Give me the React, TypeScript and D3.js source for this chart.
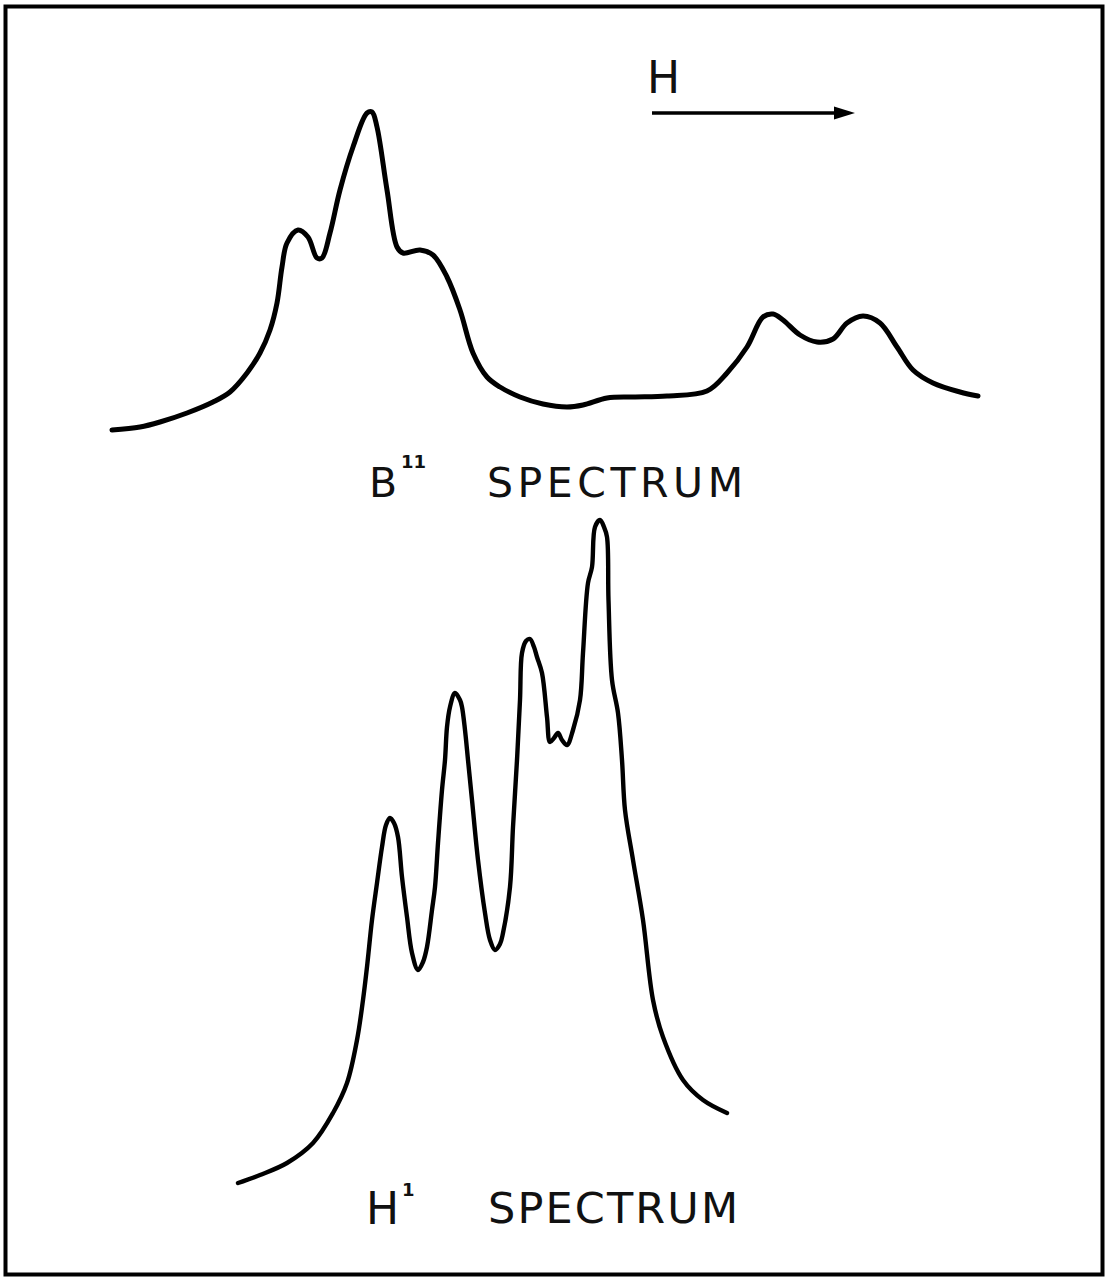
import React from "react";
import * as d3 from "d3";

// Field (arbitrary units, increasing to the right) and intensity (arbitrary units)
const b11Field = [1.2, 4.0, 6.0, 8.7, 11.3, 13.0, 14.7, 16.0, 17.0, 17.7, 18.2, 18.7, 19.8, 20.8, 21.7, 22.2, 23.0, 24.0, 25.3, 26.7, 27.2, 27.7, 28.7, 29.7, 30.3, 32.0, 33.3, 34.7, 36.0, 37.3, 38.7, 40.0, 42.0, 44.3, 46.7, 48.3, 50.7, 53.3, 56.7, 60.7, 62.7, 64.7, 66.3, 67.3, 68.3, 70.0, 71.7, 73.3, 74.7, 76.3, 78.0, 79.7, 81.3, 83.3, 86.0, 87.8];
const b11Intensity = [1.0, 1.3, 1.8, 2.7, 3.8, 4.8, 6.7, 8.7, 11.0, 13.7, 17.3, 19.7, 21.0, 20.3, 18.2, 18.2, 20.7, 25.0, 29.3, 32.7, 32.8, 31.3, 25.0, 19.3, 18.7, 19.0, 18.5, 16.3, 13.0, 8.7, 6.3, 5.3, 4.3, 3.6, 3.3, 3.5, 4.2, 4.3, 4.4, 4.9, 6.7, 9.3, 12.3, 12.6, 12.0, 10.5, 9.8, 10.1, 11.7, 12.4, 11.7, 9.3, 7.0, 5.7, 4.8, 4.4];

const h1Field = [13.8, 16.0, 18.7, 21.3, 23.3, 24.7, 25.7, 26.3, 26.7, 27.2, 27.7, 28.2, 28.6, 29.0, 29.4, 29.8, 30.2, 30.7, 31.2, 31.8, 32.3, 32.7, 33.2, 33.5, 33.8, 34.2, 34.5, 34.7, 35.0, 35.5, 36.0, 36.2, 36.5, 36.8, 37.2, 37.8, 38.5, 39.0, 39.5, 40.0, 40.3, 41.0, 41.3, 41.7, 42.0, 42.2, 42.6, 43.0, 43.4, 43.7, 44.2, 44.7, 45.0, 45.4, 45.8, 46.2, 46.7, 47.3, 48.0, 48.3, 48.8, 49.2, 49.5, 50.0, 50.4, 50.7, 50.85, 51.2, 51.8, 52.2, 52.5, 53.3, 54.3, 55.3, 56.3, 58.3, 60.3, 62.7];
const h1Intensity = [1.7, 2.5, 3.7, 5.7, 8.7, 11.7, 16.0, 20.0, 23.3, 28.0, 31.7, 35.3, 37.5, 38.2, 37.7, 36.3, 32.3, 28.3, 24.7, 23.0, 23.8, 25.3, 29.0, 31.3, 35.7, 41.0, 44.0, 47.3, 49.3, 50.7, 50.0, 49.3, 47.0, 44.0, 40.0, 34.0, 28.7, 26.0, 25.0, 25.6, 26.7, 31.3, 37.3, 44.0, 50.0, 54.7, 55.9, 56.1, 55.3, 54.3, 52.7, 48.3, 45.8, 46.2, 46.7, 46.0, 45.5, 47.0, 50.0, 54.7, 61.7, 63.3, 67.3, 68.0, 67.3, 66.3, 60.0, 52.0, 48.7, 44.0, 39.0, 34.0, 28.0, 20.0, 16.3, 12.0, 10.0, 8.7];

const spectrumLabels = ["B", "11", "H", "1", "SPECTRUM"];
const fieldLabel = "H";

const W = 1107;
const H = 1277;
const FONT = "'DejaVu Sans', 'Liberation Sans', sans-serif";

export default function App() {
  const x = d3.scaleLinear().domain([0, 90]).range([100, 1000]);
  const yB = d3.scaleLinear().domain([0, 33]).range([440, 110]);
  const yH = d3.scaleLinear().domain([0, 68]).range([1200, 520]);

  const b11 = b11Field.map((f, i) => [f, b11Intensity[i]] as [number, number]);
  const h1 = h1Field.map((f, i) => [f, h1Intensity[i]] as [number, number]);

  const lineB = d3
    .line<[number, number]>()
    .x((d) => x(d[0]))
    .y((d) => yB(d[1]))
    .curve(d3.curveCatmullRom.alpha(0.5));
  const lineH = d3
    .line<[number, number]>()
    .x((d) => x(d[0]))
    .y((d) => yH(d[1]))
    .curve(d3.curveCatmullRom.alpha(0.5));

  return (
    <svg
      width={W}
      height={H}
      viewBox={`0 0 ${W} ${H}`}
      style={{ position: "absolute", left: 0, top: 0, background: "#fff" }}
    >
      <rect x={0} y={0} width={W} height={H} fill="#fff" />
      <rect x={5.5} y={6.5} width={1097} height={1268} fill="none" stroke="#000" strokeWidth={4} />

      {/* Field direction arrow */}
      <text x={647} y={93} fontFamily={FONT} fontSize={44} fill="#111">
        {fieldLabel}
      </text>
      <line x1={652} y1={113} x2={838} y2={113} stroke="#000" strokeWidth={3.5} />
      <path d="M834,106.5 L855,113 L834,119.5 Z" fill="#000" />

      {/* B11 spectrum */}
      <path d={lineB(b11) || ""} fill="none" stroke="#000" strokeWidth={5} strokeLinejoin="round" strokeLinecap="round" />
      <text x={369} y={497} fontFamily={FONT} fontSize={41} fill="#111">
        {spectrumLabels[0]}
      </text>
      <text x={401} y={468} fontFamily={FONT} fontSize={18} fontWeight="bold" fill="#111">
        {spectrumLabels[1]}
      </text>
      <text x={487} y={497} fontFamily={FONT} fontSize={41} fill="#111" textLength={256} lengthAdjust="spacing">
        {spectrumLabels[4]}
      </text>

      {/* H1 spectrum */}
      <path d={lineH(h1) || ""} fill="none" stroke="#000" strokeWidth={4.4} strokeLinejoin="round" strokeLinecap="round" />
      <text x={366} y={1224} fontFamily={FONT} fontSize={44} fill="#111">
        {spectrumLabels[2]}
      </text>
      <text x={402} y={1196} fontFamily={FONT} fontSize={18} fontWeight="bold" fill="#111">
        {spectrumLabels[3]}
      </text>
      <text x={488} y={1223} fontFamily={FONT} fontSize={43} fill="#111" textLength={250} lengthAdjust="spacing">
        {spectrumLabels[4]}
      </text>
    </svg>
  );
}
